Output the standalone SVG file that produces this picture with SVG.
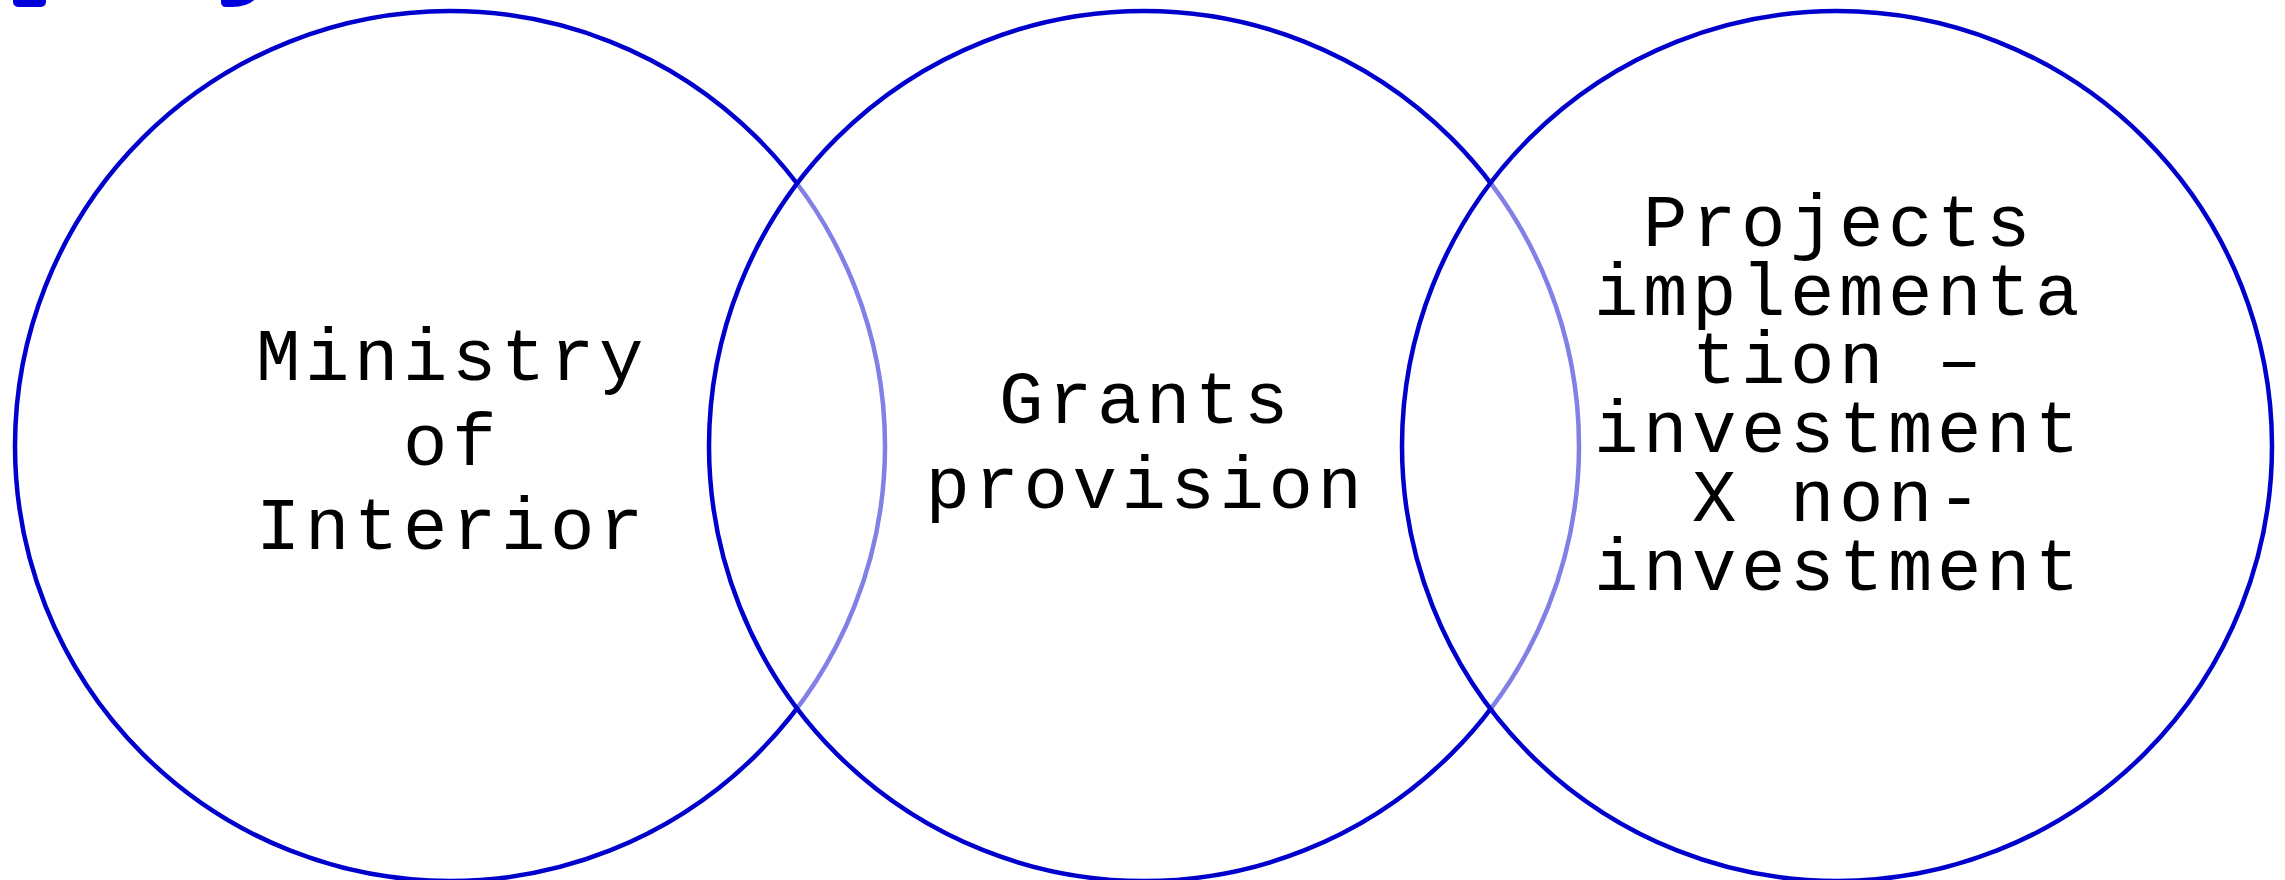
<svg xmlns="http://www.w3.org/2000/svg" width="2285" height="880" viewBox="0 0 2285 880">
<style>
.ring{fill:#ffffff;fill-opacity:0.5;stroke:#0000cc;stroke-width:4.5}
.lbl{font-family:"Liberation Mono","Courier New",monospace;font-size:74px;letter-spacing:4.6px;fill:#000000;text-anchor:middle}
.frag{fill:#0000dd}
</style>
<rect width="2285" height="880" fill="#ffffff"/>
<g id="title-fragments">
<rect class="frag" x="13" y="-10" width="33" height="17" rx="5"/>
<path class="frag" d="M221,-10 H258 V-4 Q250,7 232,7 H226 Q221,7 221,2 Z"/>
</g>
<g id="connectors"></g>
<g id="node-ministry">
<circle class="ring" cx="450" cy="446" r="435"/>
<text class="lbl"><tspan x="452" y="380">Ministry</tspan><tspan x="452" y="465">of</tspan><tspan x="452" y="549">Interior</tspan></text>
</g>
<g id="node-grants">
<circle class="ring" cx="1144" cy="446" r="435"/>
<text class="lbl"><tspan x="1146" y="423">Grants</tspan><tspan x="1146" y="508">provision</tspan></text>
</g>
<g id="node-projects">
<circle class="ring" cx="1837" cy="446" r="435"/>
<text class="lbl"><tspan x="1839" y="246">Projects</tspan><tspan x="1839" y="314.7">implementa</tspan><tspan x="1839" y="383.4">tion –</tspan><tspan x="1839" y="452.1">investment</tspan><tspan x="1839" y="520.8">X non-</tspan><tspan x="1839" y="589.5">investment</tspan></text>
</g>
</svg>
